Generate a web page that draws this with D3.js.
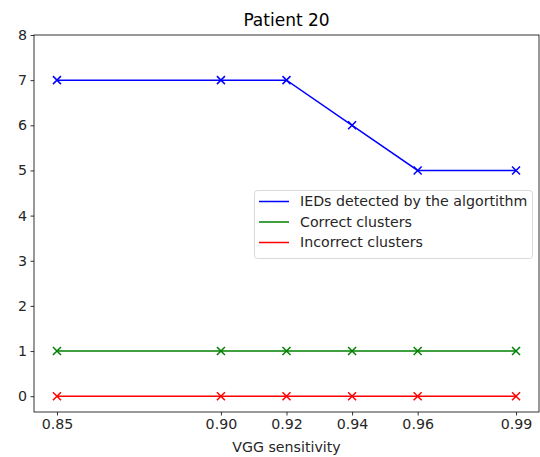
<!DOCTYPE html>
<html>
<head>
<meta charset="utf-8">
<script src="https://cdn.jsdelivr.net/npm/d3@7/dist/d3.min.js"></script>
<style>
  html, body { margin: 0; padding: 0; background: #fff; }
  svg { display: block; font-family: "DejaVu Sans", sans-serif; }
</style>
</head>
<body>
<svg id="chart" width="540" height="457"></svg>
<script>
// Sensitivity thresholds tested and the counts at each one
const sensitivity = [0.85, 0.90, 0.92, 0.94, 0.96, 0.99];
const iedsDetected = [7, 7, 7, 6, 5, 5];
const correctClusters = [1, 1, 1, 1, 1, 1];
const incorrectClusters = [0, 0, 0, 0, 0, 0];
const xTickLabels = ["0.85", "0.90", "0.92", "0.94", "0.96", "0.99"];
const yTicks = [0, 1, 2, 3, 4, 5, 6, 7, 8];

const series = [
  { name: "IEDs detected by the algortithm", values: iedsDetected, color: "#0000ff" },
  { name: "Correct clusters", values: correctClusters, color: "#008000" },
  { name: "Incorrect clusters", values: incorrectClusters, color: "#ff0000" }
];

const svg = d3.select("#chart");
const plot = { left: 34, right: 539, top: 35, bottom: 412 };

const x = d3.scaleLinear().domain([0.843, 0.997]).range([plot.left, plot.right]);
const y = d3.scaleLinear().domain([-0.35, 8]).range([plot.bottom, plot.top]);

const textColor = "#262626";
const fontSize = "14.2px";

// Axes
const xAxis = d3.axisBottom(x).tickValues(sensitivity)
  .tickFormat((d, i) => xTickLabels[i]).tickSize(3.5).tickPadding(3.5);
const yAxis = d3.axisLeft(y).tickValues(yTicks)
  .tickFormat(d3.format("d")).tickSize(3.5).tickPadding(3.5);

const gx = svg.append("g").attr("transform", `translate(0,${plot.bottom})`).call(xAxis);
const gy = svg.append("g").attr("transform", `translate(${plot.left},0)`).call(yAxis);
[gx, gy].forEach(g => {
  g.select(".domain").remove();
  g.selectAll(".tick line").attr("stroke", "#000").attr("stroke-width", 0.8);
  g.selectAll(".tick text").attr("fill", textColor).style("font-size", fontSize)
    .style("font-family", "DejaVu Sans, sans-serif");
});

// Frame
svg.append("rect")
  .attr("x", plot.left).attr("y", plot.top)
  .attr("width", plot.right - plot.left).attr("height", plot.bottom - plot.top)
  .attr("fill", "none").attr("stroke", "#000").attr("stroke-width", 0.8);

// Lines and x markers
const line = d3.line().x((d, i) => x(sensitivity[i])).y(d => y(d));
series.forEach(s => {
  svg.append("path").datum(s.values)
    .attr("d", line).attr("fill", "none")
    .attr("stroke", s.color).attr("stroke-width", 1.5);
  const m = 4;
  svg.append("g").selectAll("path").data(s.values).join("path")
    .attr("d", (d, i) => {
      const cx = x(sensitivity[i]), cy = y(d);
      return `M${cx - m},${cy - m}L${cx + m},${cy + m}M${cx - m},${cy + m}L${cx + m},${cy - m}`;
    })
    .attr("stroke", s.color).attr("stroke-width", 1.5).attr("fill", "none");
});

// Title and axis label
svg.append("text").attr("x", (plot.left + plot.right) / 2).attr("y", 26)
  .attr("text-anchor", "middle").attr("fill", "#000")
  .style("font-size", "17px").text("Patient 20");
svg.append("text").attr("x", (plot.left + plot.right) / 2).attr("y", 452)
  .attr("text-anchor", "middle").attr("fill", textColor)
  .style("font-size", fontSize).text("VGG sensitivity");

// Legend
const legend = svg.append("g");
legend.append("rect")
  .attr("x", 254.5).attr("y", 190.5).attr("width", 278).attr("height", 68)
  .attr("rx", 3).attr("fill", "#fff").attr("fill-opacity", 0.8)
  .attr("stroke", "#d9d9d9").attr("stroke-width", 1);
series.forEach((s, i) => {
  const ly = 201.5 + i * 20.5;
  legend.append("line").attr("x1", 259).attr("x2", 289).attr("y1", ly).attr("y2", ly)
    .attr("stroke", s.color).attr("stroke-width", 1.5);
  legend.append("text").attr("x", 300).attr("y", ly).attr("dy", "0.35em")
    .attr("fill", textColor).style("font-size", fontSize).text(s.name);
});
</script>
</body>
</html>
